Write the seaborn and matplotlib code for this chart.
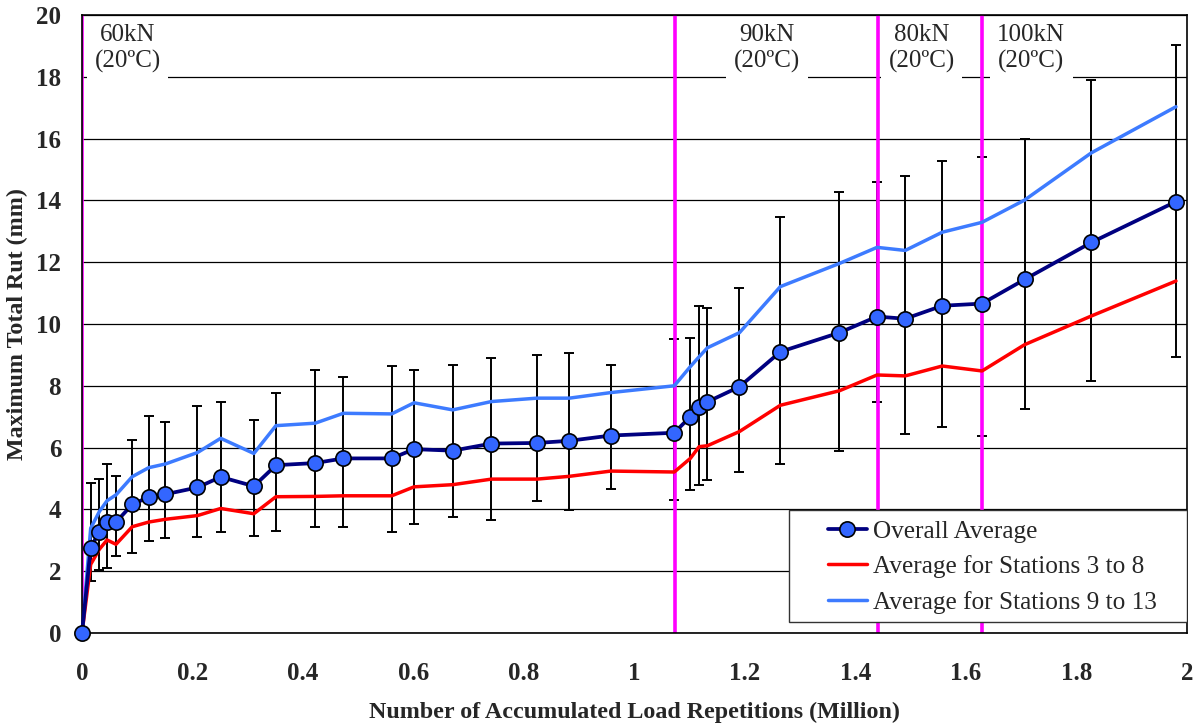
import matplotlib
matplotlib.use("Agg")
import matplotlib.pyplot as plt
from matplotlib.patches import Rectangle
import seaborn as sns
import numpy as np

# accumulated load repetitions (million)
reps = [0, 0.0157, 0.0314, 0.0453, 0.0615, 0.091, 0.1207, 0.151, 0.209, 0.251,
        0.311, 0.351, 0.422, 0.473, 0.5605, 0.601, 0.671, 0.741, 0.8235, 0.882,
        0.957, 1.072, 1.101, 1.117, 1.132, 1.190, 1.264, 1.371, 1.439, 1.490,
        1.557, 1.629, 1.706, 1.827, 1.980]

overall = [0, 2.76, 3.28, 3.58, 3.59, 4.16, 4.40, 4.49, 4.71, 5.05,
           4.75, 5.43, 5.50, 5.65, 5.65, 5.95, 5.90, 6.13, 6.15, 6.22,
           6.39, 6.48, 7.00, 7.30, 7.48, 7.97, 9.10, 9.72, 10.24, 10.17,
           10.59, 10.66, 11.44, 12.64, 13.96]

st_3_8 = [0, 2.22, 2.71, 3.01, 2.87, 3.44, 3.59, 3.68, 3.80, 4.03,
          3.86, 4.41, 4.42, 4.44, 4.44, 4.73, 4.80, 4.98, 4.98, 5.07,
          5.24, 5.21, 5.65, 6.03, 6.06, 6.52, 7.37, 7.84, 8.35, 8.32,
          8.64, 8.48, 9.33, 10.26, 11.39]

st_9_13 = [0, 3.39, 3.93, 4.28, 4.47, 5.06, 5.35, 5.47, 5.84, 6.30,
           5.81, 6.71, 6.79, 7.11, 7.09, 7.45, 7.22, 7.49, 7.60, 7.60,
           7.78, 8.00, 8.62, 8.94, 9.23, 9.72, 11.21, 11.96, 12.48, 12.38,
           12.97, 13.29, 14.01, 15.54, 17.03]

# error bar ends (max / min)
err_hi = [0, 4.84, 4.97, 5.48, 5.08, 6.25, 7.03, 6.84, 7.34, 7.49,
          6.88, 7.78, 8.50, 8.27, 8.64, 8.50, 8.66, 8.91, 8.99, 9.05,
          8.68, 9.50, 9.56, 10.58, 10.51, 11.17, 13.47, 14.28, 14.61, 14.80,
          15.26, 15.42, 16.0, 17.89, 19.03]
err_lo = [0, 1.68, 2.05, 2.09, 2.50, 2.58, 2.98, 3.07, 3.11, 3.26,
          3.15, 3.29, 3.44, 3.44, 3.27, 3.54, 3.75, 3.66, 4.26, 3.99,
          4.66, 4.29, 4.64, 4.78, 4.94, 5.21, 5.48, 5.89, 7.49, 6.45,
          6.67, 6.36, 7.25, 8.15, 8.94]

# load changes
load_starts = [0, 1.073, 1.44, 1.629]
load_labels = ["60kN\n(20ºC)", "90kN\n(20ºC)", "80kN\n(20ºC)", "100kN\n(20ºC)"]
label_x = [0.083, 1.24, 1.52, 1.718]

sns.set_style("white")
plt.rcParams['font.family'] = ['Liberation Serif', 'DejaVu Serif']

fig = plt.figure(figsize=(11.99, 7.27), dpi=100)
ax = fig.add_axes([0.0684, 0.1293, 0.9216, 0.8501])

ax.set_xlim(0, 2)
ax.set_ylim(0, 20)
ax.set_yticks(np.arange(0, 21, 2))
ax.set_xticks(np.arange(0, 2.01, 0.2))
ax.set_xticklabels(["0", "0.2", "0.4", "0.6", "0.8", "1", "1.2", "1.4", "1.6", "1.8", "2"])
ax.yaxis.grid(True, color="black", linewidth=0.9)
ax.set_axisbelow(True)

ov = np.array(overall)
yerr = [ov - np.array(err_lo), np.array(err_hi) - ov]
ax.errorbar(reps, overall, yerr=yerr, fmt="none", ecolor="black",
            elinewidth=1.4, capsize=3.5, capthick=1.4, zorder=2)

for xv in load_starts:
    ax.axvline(xv, color="#FF00FF", linewidth=2.6, zorder=2.5)

sns.lineplot(x=reps, y=st_3_8, ax=ax, color="#FF0000", linewidth=2.5,
             label="Average for Stations 3 to 8", zorder=4)
sns.lineplot(x=reps, y=st_9_13, ax=ax, color="#3D7BFF", linewidth=2.5,
             label="Average for Stations 9 to 13", zorder=4)
sns.lineplot(x=reps, y=overall, ax=ax, color="#000080", linewidth=2.7,
             marker="o", markersize=11, markerfacecolor="#3366FF",
             markeredgecolor="black", markeredgewidth=1.2,
             label="Overall Average", zorder=11, clip_on=False)

for xv, txt in zip(label_x, load_labels):
    ax.text(xv, 18.9, txt, ha="center", va="center", fontsize=18,
            linespacing=1.22, zorder=3,
            bbox=dict(facecolor="white", edgecolor="none", boxstyle="square,pad=0.3"))

for side in ["top", "right", "bottom", "left"]:
    ax.spines[side].set_color("black")
    ax.spines[side].set_linewidth(1.2)
    ax.spines[side].set_zorder(10)

ax.tick_params(axis="x", which="major", direction="out", length=5,
               width=1, color="#444444", labelsize=18, pad=16)
ax.tick_params(axis="y", which="major", direction="out", length=5,
               width=1, color="#444444", labelsize=18, pad=10)
for lbl in ax.get_xticklabels() + ax.get_yticklabels():
    lbl.set_fontweight("bold")

ax.set_xlabel("Number of Accumulated Load Repetitions (Million)",
              fontsize=17.3, fontweight="bold", labelpad=12)
ax.set_ylabel("Maximum Total Rut (mm)", fontsize=17.3, fontweight="bold", labelpad=6)

# legend box drawn separately so the wide left margin matches
ax.add_patch(Rectangle((0.640, 0.0178), 0.360, 0.181, transform=ax.transAxes,
                       facecolor="white", edgecolor="#333333", linewidth=1.0,
                       zorder=12))
handles, labels = ax.get_legend_handles_labels()
order = [2, 0, 1]
leg = ax.legend([handles[i] for i in order], [labels[i] for i in order],
                loc="center left", bbox_to_anchor=(0.675, 0.107), fontsize=18.2,
                frameon=False, handlelength=1.55, handletextpad=0.25,
                borderpad=0, borderaxespad=0, labelspacing=0.5)
leg.set_zorder(13)

fig.savefig("out.png", dpi=100)
